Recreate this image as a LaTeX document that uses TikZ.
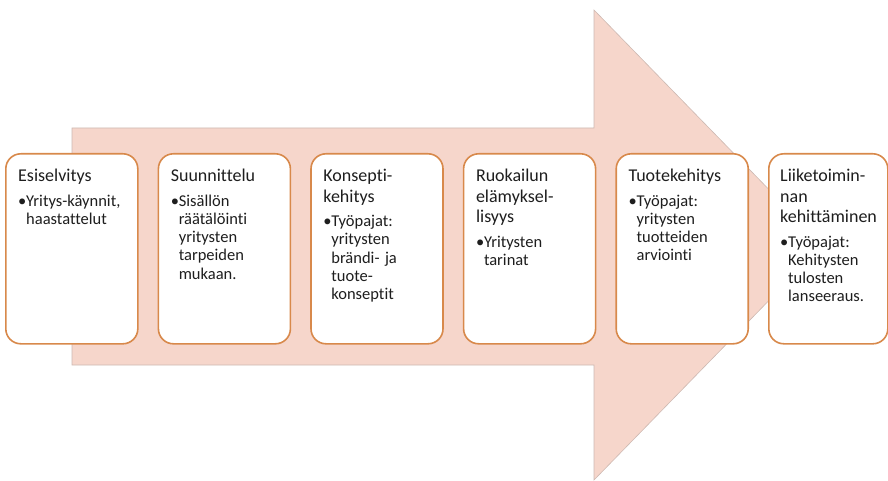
\documentclass[tikz,border=0pt]{standalone}
\usepackage{fontspec}
\setmainfont{Carlito}[Ligatures=NoCommon]
\usepackage{xcolor}
\usepackage{tikz}
\usetikzlibrary{positioning}

\definecolor{arrowpink}{HTML}{F6D6CB}
\definecolor{arrowedge}{HTML}{CDB9B2}
\definecolor{stageline}{HTML}{D8894B}
\definecolor{inktext}{HTML}{1E1E1E}

\newcommand{\stagetitle}[1]{{\fontsize{18}{20.5}\selectfont #1\par}\vspace{6.5pt}}
\newcommand{\stagebullet}[1]{\makebox[8pt][l]{\textbullet}\begin{tabular}[t]{@{}l@{}}#1\end{tabular}}

\begin{document}
\begin{tikzpicture}[x=1pt, y=-1pt,
  stage/.style={draw=stageline, line width=1.6pt, fill=white, rounded corners=15pt,
    minimum width=132pt, minimum height=190pt, inner sep=0pt},
  stagetext/.style={anchor=north west, inner sep=0pt, align=left, text width=118pt,
    text=inktext, font=\fontsize{16.5}{18.2}\selectfont}
]
  \useasboundingbox (0,0) rectangle (888,481);
  % big arrow behind the stages
  \fill[arrowpink, draw=arrowedge, line width=0.6pt]
    (72,128) -- (594,128) -- (594,10) -- (823,245) -- (594,480) -- (594,365) -- (72,365) -- cycle;

  \node[stage, anchor=north west] (b1) at (5,153) {};
  \node[stage, right=19pt of b1] (b2) {};
  \node[stage, right=19pt of b2] (b3) {};
  \node[stage, right=19pt of b3] (b4) {};
  \node[stage, right=19pt of b4] (b5) {};
  \node[stage, right=19pt of b5, minimum width=119pt] (b6) {};

  \node[stagetext] (t1) at ([shift={(13pt,-16pt)}]b1.north west)
    {\stagetitle{Esiselvitys}\stagebullet{Yritys-käynnit,\\haastattelut}};
  \node[stagetext] (t2) at ([shift={(13pt,-16pt)}]b2.north west)
    {\stagetitle{Suunnittelu}\stagebullet{Sisällön\\räätälöinti\\yritysten\\tarpeiden\\mukaan.}};
  \node[stagetext] (t3) at ([shift={(13pt,-16pt)}]b3.north west)
    {\stagetitle{Konsepti-\\kehitys}\stagebullet{Työpajat:\\yritysten\\brändi- ja\\tuote-\\konseptit}};
  \node[stagetext] (t4) at ([shift={(13pt,-16pt)}]b4.north west)
    {\stagetitle{Ruokailun\\elämyksel-\\lisyys}\stagebullet{Yritysten\\tarinat}};
  \node[stagetext] (t5) at ([shift={(13pt,-16pt)}]b5.north west)
    {\stagetitle{Tuotekehitys}\stagebullet{Työpajat:\\yritysten\\tuotteiden\\arviointi}};
  \node[stagetext] (t6) at ([shift={(12pt,-16pt)}]b6.north west)
    {\stagetitle{Liiketoimin-\\nan\\kehittäminen}\stagebullet{Työpajat:\\Kehitysten\\tulosten\\lanseeraus.}};
\end{tikzpicture}
\end{document}
